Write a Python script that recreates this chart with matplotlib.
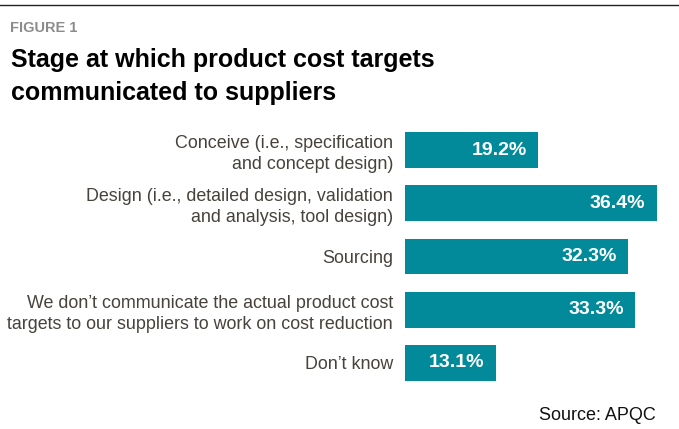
import matplotlib
matplotlib.use("Agg")
import matplotlib.pyplot as plt
from matplotlib.lines import Line2D

# data
categories = [
    "Conceive (i.e., specification\nand concept design)",
    "Design (i.e., detailed design, validation\nand analysis, tool design)",
    "Sourcing",
    "We don\u2019t communicate the actual product cost\ntargets to our suppliers to work on cost reduction",
    "Don\u2019t know",
]
values = [19.2, 36.4, 32.3, 33.3, 13.1]

BAR = "#02899A"
LABEL = "#47433c"
W, H = 679, 429

plt.rcParams["font.family"] = ["Liberation Sans", "DejaVu Sans"]

fig = plt.figure(figsize=(W / 100, H / 100), dpi=100)

# axes placed in pixel terms: bars start at x=405
ax = fig.add_axes([405 / W, 1 - 389.6 / H, (W - 405) / W, 266.2 / H])
ypos = list(range(len(values)))
ax.barh(ypos, values, height=0.67, color=BAR)
ax.set_xlim(0, (W - 405) / 6.91)
ax.set_ylim(len(values) - 0.5, -0.5)
ax.set_yticks(ypos)
ax.set_yticklabels(categories, fontsize=12.9, color=LABEL, linespacing=1.3)
ax.tick_params(axis="y", length=0, pad=8.6)
ax.set_xticks([])
for s in ax.spines.values():
    s.set_visible(False)

for y, v in zip(ypos, values):
    ax.annotate(f"{v}%", xy=(v, y), xytext=(-8, 0), textcoords="offset points",
                ha="right", va="center", color="white", fontsize=14,
                fontweight="bold")

# header
fig.add_artist(Line2D([0, 1], [1 - 5 / H, 1 - 5 / H], color="#222222", lw=1.0))
fig.text(10 / W, 1 - 32.5 / H, "FIGURE 1", fontsize=10.5, fontweight="bold",
         color="#8c8c8c", va="baseline")
fig.text(11 / W, 1 - 66.7 / H, "Stage at which product cost targets", fontsize=18,
         fontweight="bold", color="black", va="baseline")
fig.text(11 / W, 1 - 100 / H, "communicated to suppliers", fontsize=18,
         fontweight="bold", color="black", va="baseline")

fig.text(656 / W, 1 - 420 / H, "Source: APQC", fontsize=13, color="#111111",
         ha="right", va="baseline")

fig.savefig("out.png", dpi=100)
